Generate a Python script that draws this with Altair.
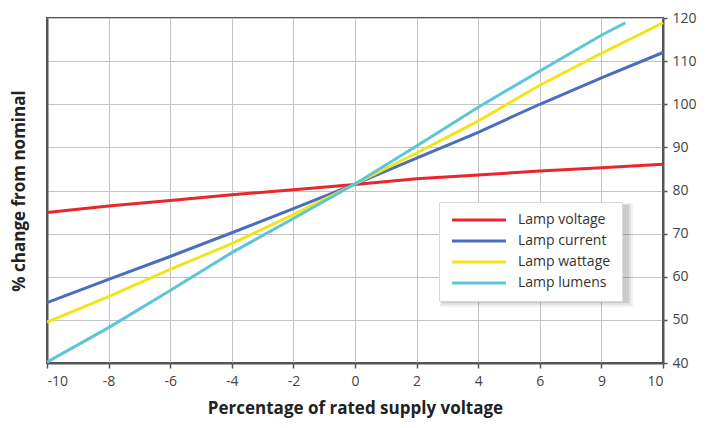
import altair as alt
import pandas as pd

# Percentage of rated supply voltage
x_vals = [-10, -8, -6, -4, -2, 0, 2, 4, 6, 8, 10]
x_tick_labels = ["-10", "-8", "-6", "-4", "-2", "0", "2", "4", "6", "9", "10"]

lamp_voltage = [74.9, 76.4, 77.7, 79.0, 80.2, 81.4, 82.7, 83.6, 84.5, 85.3, 86.1]
lamp_current = [54.0, 59.4, 64.7, 70.2, 75.8, 81.5, 87.5, 93.5, 100.0, 106.1, 112.0]
lamp_wattage = [49.5, 55.4, 61.7, 67.7, 74.4, 81.5, 88.7, 96.1, 104.4, 111.8, 118.9]
lumens_x = [-10, -8, -6, -4, -2, 0, 2, 4, 6, 8, 8.78]
lamp_lumens = [40.2, 48.2, 56.8, 65.6, 73.5, 81.5, 90.3, 99.3, 107.7, 116.0, 118.9]

series_names = ["Lamp voltage", "Lamp current", "Lamp wattage", "Lamp lumens"]
series_colors = ["#e8262b", "#4a6ebd", "#f0e41a", "#5ec4d8"]
y_ticks = [40, 50, 60, 70, 80, 90, 100, 110, 120]

rows = []
for name, xs, ys in [
    (series_names[0], x_vals, lamp_voltage),
    (series_names[1], x_vals, lamp_current),
    (series_names[2], x_vals, lamp_wattage),
    (series_names[3], lumens_x, lamp_lumens),
]:
    for xv, yv in zip(xs, ys):
        rows.append({"x": xv, "y": yv, "series": name})
df = pd.DataFrame(rows)

label_expr = "[" + ",".join("'%s'" % l for l in x_tick_labels) + "][indexof([" + \
    ",".join(str(v) for v in x_vals) + "], datum.value)]"

FONT = "Open Sans"
PAD_L, PAD_T = 39, 10
W, H = 616, 345
LEG_X, LEG_Y = 392, 184

x_enc = alt.X(
    "x:Q",
    scale=alt.Scale(domain=[-10, 10], nice=False, zero=False),
    axis=alt.Axis(
        values=x_vals,
        labelExpr=label_expr,
        title="Percentage of rated supply voltage",
        grid=True,
        gridColor="#c4c4c4",
        gridWidth=1,
        domainColor="#555555",
        domainWidth=2,
        tickColor="#555555",
        tickSize=5,
        tickWidth=1.5,
        labelPadding=6,
        labelFontSize=14,
        labelColor="#444444",
        labelFont=FONT,
        titleFont=FONT,
        titleFontSize=17,
        titleFontWeight="bold",
        titleColor="#222222",
        titlePadding=12,
    ),
)

color_enc = alt.Color(
    "series:N",
    scale=alt.Scale(domain=series_names, range=series_colors),
    sort=series_names,
    legend=alt.Legend(
        title=None,
        orient="none",
        legendX=LEG_X,
        legendY=LEG_Y,
        fillColor="white",
        strokeColor="#d8d8d8",
        padding=11,
        symbolType="M-1,0H9.8",
        symbolSize=100,
        symbolStrokeWidth=3,
        labelFontSize=14,
        labelFont=FONT,
        labelColor="#333333",
        labelOffset=54,
        rowPadding=7,
    ),
)

lines = alt.Chart(df).mark_line(strokeWidth=3).encode(
    x=x_enc,
    y=alt.Y(
        "y:Q",
        scale=alt.Scale(domain=[40, 120], nice=False, zero=False),
        axis=alt.Axis(
            orient="right",
            values=y_ticks,
            title=None,
            grid=True,
            gridColor="#c4c4c4",
            gridWidth=1,
            domainColor="#555555",
            domainWidth=2,
            tickColor="#555555",
            tickSize=4,
            tickWidth=1.5,
            labelPadding=5,
            labelFontSize=14,
            labelColor="#444444",
            labelFont=FONT,
        ),
    ),
    color=color_enc,
    order=alt.Order("x:Q"),
    detail="series:N",
)

ghost = alt.Chart(df).mark_line(opacity=0).encode(
    x=alt.X("x:Q"),
    y=alt.Y(
        "y:Q",
        axis=alt.Axis(
            orient="left",
            title="% change from nominal",
            labels=False,
            ticks=False,
            grid=False,
            domainColor="#555555",
            domainWidth=2,
            titleFont=FONT,
            titleFontSize=17,
            titleFontWeight="bold",
            titleColor="#222222",
            titlePadding=19,
        ),
    ),
    color=color_enc,
)

# soft drop shadow behind the legend box
shadow_df = pd.DataFrame({"k": [0]})
shadow_layers = []
for grow, op in [(6, 0.05), (4, 0.07), (2, 0.09)]:
    shadow_layers.append(
        alt.Chart(shadow_df).mark_rect(color="#000000", opacity=op).encode(
            x=alt.value(LEG_X + 4 - grow / 2),
            x2=alt.value(LEG_X + 188 + grow),
            y=alt.value(LEG_Y + 4 - grow / 2),
            y2=alt.value(LEG_Y + 99 + grow),
        )
    )

chart = (
    alt.layer(ghost, *shadow_layers, lines)
    .resolve_axis(y="independent")
    .properties(
        width=W,
        height=H,
        autosize=alt.AutoSizeParams(type="none"),
        padding={"left": PAD_L, "top": PAD_T, "right": 691 - PAD_L - W, "bottom": 412 - PAD_T - H},
        background="white",
    )
    .configure_view(stroke="#555555", strokeWidth=2)
)

chart.save("out.html", embed_options={"renderer": "svg", "actions": False})
